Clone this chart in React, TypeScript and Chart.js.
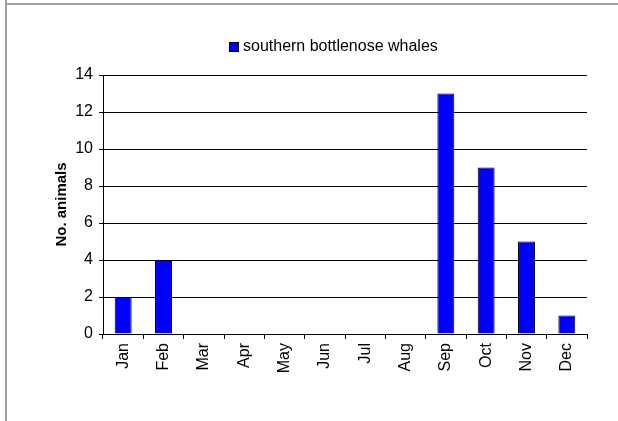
import { useEffect, useRef } from "react";
import { Chart, registerables } from "chart.js";

Chart.register(...registerables);

const months = ["Jan", "Feb", "Mar", "Apr", "May", "Jun", "Jul", "Aug", "Sep", "Oct", "Nov", "Dec"];
const whaleCounts = [2, 4, 0, 0, 0, 0, 0, 0, 13, 9, 5, 1];
const seriesLabel = "southern bottlenose whales";
const yAxisTitle = "No. animals";
const yMin = 0;
const yMax = 14;
const yStep = 2;

const FONT = "Arial, 'Liberation Sans', sans-serif";

const framePlugin = {
  id: "frame",
  beforeDraw(chart: any) {
    const ctx = chart.ctx;
    ctx.save();
    ctx.fillStyle = "#ffffff";
    ctx.fillRect(0, 0, chart.width, chart.height);
    ctx.fillStyle = "#a0a0a0";
    ctx.fillRect(5, 0, 2, chart.height);
    ctx.fillRect(5, 3, chart.width - 5, 2);
    ctx.restore();
  },
};

const legendPlugin = {
  id: "customLegend",
  afterDraw(chart: any) {
    const ctx = chart.ctx;
    const ds = chart.data.datasets[0];
    ctx.save();
    ctx.font = `16px ${FONT}`;
    const text = ds.label;
    const tw = ctx.measureText(text).width;
    const box = 10;
    const gap = 4;
    const total = box + gap + tw;
    const cx = 333;
    const x0 = Math.round(cx - total / 2);
    const cy = 47;
    ctx.fillStyle = ds.backgroundColor;
    ctx.fillRect(x0, cy - box / 2, box, box);
    ctx.strokeStyle = "#000";
    ctx.lineWidth = 1;
    ctx.strokeRect(x0 + 0.5, cy - box / 2 + 0.5, box - 1, box - 1);
    ctx.fillStyle = "#000";
    ctx.textBaseline = "middle";
    ctx.textAlign = "left";
    ctx.fillText(text, x0 + box + gap, cy);
    ctx.restore();
  },
};

export default function App() {
  const ref = useRef<HTMLCanvasElement>(null);

  useEffect(() => {
    if (!ref.current) return;
    const chart = new Chart(ref.current, {
      type: "bar",
      data: {
        labels: months,
        datasets: [
          {
            label: seriesLabel,
            data: whaleCounts,
            backgroundColor: "#0000ff",
            borderColor: "#000000",
            borderWidth: 1,
            barPercentage: 0.42,
            categoryPercentage: 1,
          },
        ],
      },
      options: {
        responsive: false,
        animation: false,
        devicePixelRatio: 1,
        layout: { padding: { left: 0, right: 31, top: 75, bottom: 0 } },
        plugins: {
          legend: { display: false },
          tooltip: { enabled: false },
        },
        scales: {
          x: {
            grid: {
              display: true,
              drawOnChartArea: false,
              drawTicks: true,
              tickLength: 5,
              color: "#000",
              offset: true,
            },
            border: { display: true, color: "#000", width: 1 },
            ticks: {
              minRotation: 90,
              maxRotation: 90,
              autoSkip: false,
              color: "#000",
              padding: 4,
              font: { family: FONT, size: 16 },
            },
            afterFit(scale: any) {
              scale.height = 87;
            },
          },
          y: {
            min: yMin,
            max: yMax,
            grid: {
              color: "#000",
              tickLength: 4,
              drawTicks: true,
            },
            border: { display: true, color: "#000", width: 1 },
            ticks: {
              stepSize: yStep,
              color: "#000",
              padding: 6,
              font: { family: FONT, size: 16 },
            },
            title: {
              display: true,
              text: yAxisTitle,
              color: "#000",
              font: { family: FONT, size: 15, weight: "bold" },
              padding: { top: 53, bottom: 0 },
            },
            afterFit(scale: any) {
              scale.width = 103;
            },
          },
        },
      },
      plugins: [framePlugin, legendPlugin],
    });
    return () => chart.destroy();
  }, []);

  return (
    <div style={{ position: "fixed", left: 0, top: 0, width: 618, height: 421, background: "#fff" }}>
      <canvas ref={ref} width={618} height={421} style={{ width: 618, height: 421, display: "block" }} />
    </div>
  );
}
